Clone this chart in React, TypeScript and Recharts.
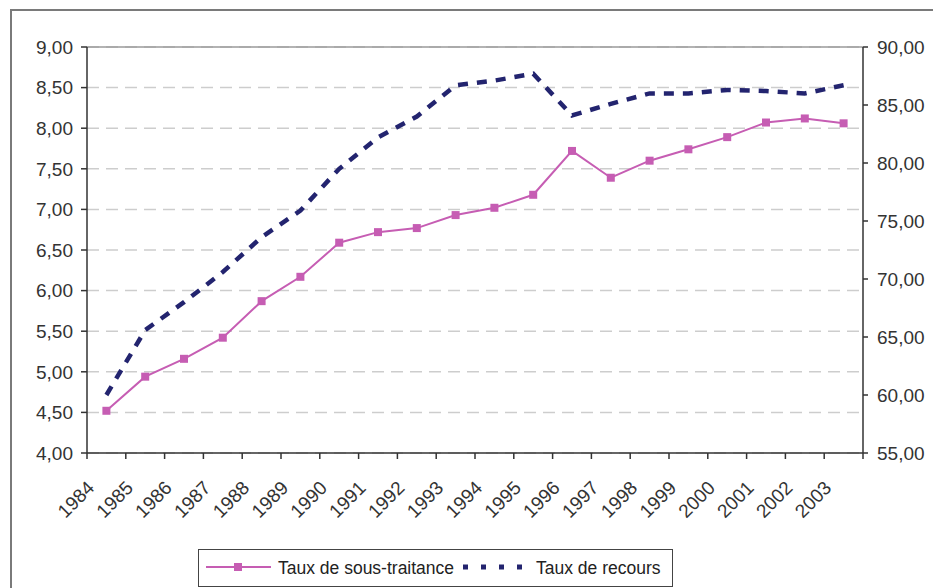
import React from "react";
import {
  LineChart,
  Line,
  XAxis,
  YAxis,
  CartesianGrid,
  ReferenceLine,
} from "recharts";

// Years on the category axis
const years = [
  "1984", "1985", "1986", "1987", "1988", "1989", "1990", "1991", "1992", "1993",
  "1994", "1995", "1996", "1997", "1998", "1999", "2000", "2001", "2002", "2003",
];

// Taux de sous-traitance (left axis)
const sousTraitance = [
  4.52, 4.94, 5.16, 5.42, 5.87, 6.17, 6.59, 6.72, 6.77, 6.93,
  7.02, 7.18, 7.72, 7.39, 7.6, 7.74, 7.89, 8.07, 8.12, 8.06,
];

// Taux de recours (right axis)
const recours = [
  60.0, 65.6, 68.0, 70.6, 73.6, 75.9, 79.5, 82.2, 84.0, 86.7,
  87.1, 87.7, 84.1, 85.1, 86.0, 86.0, 86.3, 86.2, 86.0, 86.7,
];

const leftTicks = [4, 4.5, 5, 5.5, 6, 6.5, 7, 7.5, 8, 8.5, 9];
const rightTicks = [55, 60, 65, 70, 75, 80, 85, 90];
const boundaryTicks = years.map((_, i) => i).concat(years.length);

const PINK = "#c65db3";
const NAVY = "#23246f";
const AXIS = "#333333";
const FONT = '"Liberation Sans", Arial, sans-serif';

const W = 933;
const H = 588;
const PLOT_W = 863 - 87;
const HALF_STEP = PLOT_W / years.length / 2;

const data = years.map((y, i) => ({
  pos: i + 0.5,
  year: y,
  sous: sousTraitance[i],
  recours: recours[i],
}));

const fmt = (v: number) => v.toFixed(2).replace(".", ",");

function YearTick(props: any) {
  const { x, y, payload } = props;
  const label = years[payload.value];
  if (!label) return null;
  const tx = x + HALF_STEP - 11;
  const ty = y + 28;
  return (
    <text
      x={tx}
      y={ty}
      textAnchor="end"
      fill={AXIS}
      fontSize={19}
      fontFamily={FONT}
      transform={`rotate(-45 ${tx} ${ty})`}
    >
      {label}
    </text>
  );
}

function SquareDot(props: any) {
  const { cx, cy, index } = props;
  if (cx == null || cy == null) return null;
  return <rect key={index} x={cx - 4} y={cy - 4} width={8} height={8} fill={PINK} />;
}

export default function App() {
  return (
    <div style={{ position: "absolute", left: 0, top: 0, width: W, height: H, overflow: "hidden", background: "#fff" }}>
      <div
        style={{
          position: "absolute",
          left: 10,
          top: 9,
          width: 960,
          height: 620,
          border: "2px solid #7a7a7a",
          boxSizing: "border-box",
        }}
      />
      <div style={{ position: "absolute", left: 0, top: 0 }}>
        <LineChart width={W} height={H} data={data} margin={{ top: 47, right: 0, bottom: 0, left: 0 }}>
          <CartesianGrid
            yAxisId="left"
            vertical={false}
            stroke="#cdcdcd"
            strokeWidth={1.5}
            strokeDasharray="12 7"
          />
          <ReferenceLine yAxisId="left" y={9} stroke="#9a9a9a" strokeWidth={1.5} />
          <XAxis
            dataKey="pos"
            type="number"
            domain={[0, years.length]}
            ticks={boundaryTicks}
            interval={0}
            height={135}
            tick={<YearTick />}
            tickSize={6}
            tickLine={{ stroke: AXIS, strokeWidth: 1.5 }}
            axisLine={{ stroke: AXIS, strokeWidth: 1.5 }}
          />
          <YAxis
            yAxisId="left"
            domain={[4, 9]}
            ticks={leftTicks}
            interval={0}
            width={87}
            tickFormatter={fmt}
            tick={{ fill: AXIS, fontSize: 19, fontFamily: FONT }}
            tickSize={6}
            tickMargin={8}
            tickLine={{ stroke: AXIS, strokeWidth: 1.5 }}
            axisLine={{ stroke: AXIS, strokeWidth: 1.5 }}
          />
          <YAxis
            yAxisId="right"
            orientation="right"
            domain={[55, 90]}
            ticks={rightTicks}
            interval={0}
            width={70}
            tickFormatter={fmt}
            tick={{ fill: AXIS, fontSize: 19, fontFamily: FONT, textAnchor: "start" }}
            tickSize={5}
            tickMargin={9}
            tickLine={{ stroke: AXIS, strokeWidth: 1.5 }}
            axisLine={{ stroke: AXIS, strokeWidth: 1.5 }}
          />
          <Line
            yAxisId="right"
            dataKey="recours"
            stroke={NAVY}
            strokeWidth={4.5}
            strokeDasharray="10 9"
            dot={false}
            isAnimationActive={false}
          />
          <Line
            yAxisId="left"
            dataKey="sous"
            stroke={PINK}
            strokeWidth={2}
            dot={<SquareDot />}
            isAnimationActive={false}
          />
        </LineChart>
      </div>

      {/* Legend */}
      <div
        style={{
          position: "absolute",
          left: 198,
          top: 549,
          width: 475,
          height: 38,
          border: "1.5px solid #444",
          boxSizing: "border-box",
          background: "#fff",
          fontFamily: FONT,
          fontSize: 17.5,
          color: "#222",
        }}
      >
        <svg width={475} height={36} style={{ position: "absolute", left: 0, top: 0 }}>
          <line x1={7} x2={72} y1={17} y2={17} stroke={PINK} strokeWidth={2} />
          <rect x={35} y={13} width={8} height={8} fill={PINK} />
          <line x1={264} x2={332} y1={17} y2={17} stroke={NAVY} strokeWidth={5} strokeDasharray="5 13" />
          <text x={79} y={24} fontSize={17.5} fontFamily={FONT} fill="#222">Taux de sous-traitance</text>
          <text x={337} y={24} fontSize={17.5} fontFamily={FONT} fill="#222">Taux de recours</text>
        </svg>
      </div>
    </div>
  );
}
